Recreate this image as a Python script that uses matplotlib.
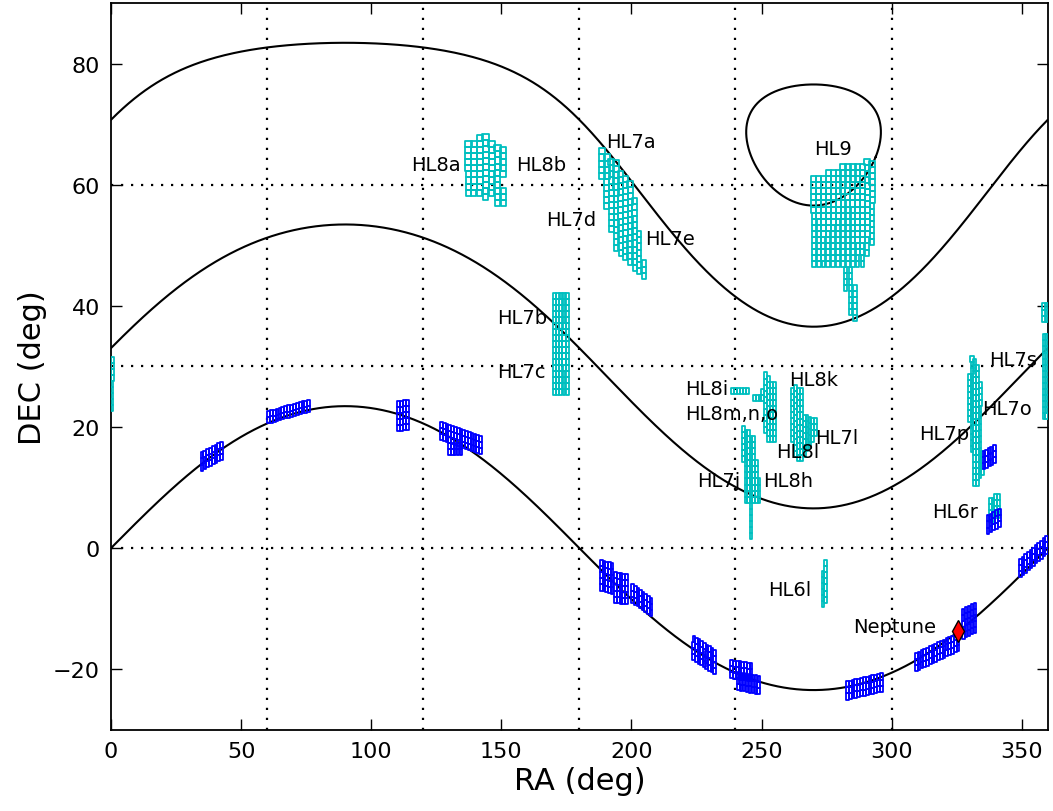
import numpy as np
import matplotlib
matplotlib.use("Agg")
import matplotlib.pyplot as plt
from matplotlib.patches import Rectangle
from matplotlib.collections import PatchCollection

# ecliptic latitude lines (deg) and obliquity of the ecliptic
ecl_lats = [0, 30, 60]
pole_circle_lat = 80
obliquity = 23.44

# cyan fields: columns of 1x1 deg cells -> (RA centre, DEC bottom, DEC top)
hl8ab = [(137.3, 58.2, 67.3), (139.5, 58.2, 67.3), (141.8, 58.2, 68.4), (144.1, 57.4, 68.4),
         (146.3, 58.2, 67.3), (148.6, 56.5, 66.4), (150.7, 61.3, 66.4), (150.7, 56.5, 59.2)]
hl7ade = [(188.7, 61.0, 65.7), (190.55, 56.0, 65.4), (192.3, 52.2, 64.6), (194.1, 49.1, 63.8),
          (195.9, 48.3, 62.8), (197.7, 47.5, 61.8), (199.5, 46.7, 61.0), (201.3, 45.8, 58.2),
          (203.0, 45.3, 52.2), (204.9, 44.5, 47.2)]
hl9 = [(270.1, 46.4, 61.5), (272.0, 46.4, 61.5), (273.8, 46.4, 61.5), (275.7, 46.4, 62.6),
       (277.6, 46.4, 62.6), (279.5, 46.4, 62.6), (281.3, 46.4, 63.8), (283.2, 46.4, 63.8),
       (285.1, 46.4, 63.8), (286.9, 46.4, 63.8), (288.8, 46.4, 63.8), (290.7, 48.3, 63.8),
       (292.5, 50.0, 63.8), (282.3, 42.5, 46.4), (284.2, 38.5, 46.4), (285.9, 37.5, 43.0)]
hl7bc = [(170.5, 25.2, 41.7), (171.7, 25.2, 41.7), (172.9, 25.2, 41.7),
         (174.1, 25.2, 41.7), (175.3, 25.2, 41.7)]
hl8i = [(239.0, 25.5, 26.5), (240.1, 25.5, 26.5), (241.2, 25.5, 26.5),
        (242.3, 25.5, 26.5), (243.4, 25.5, 26.5), (244.5, 25.5, 26.5)]
hl8mno = [(247.2, 24.3, 25.4), (248.3, 24.3, 25.4), (249.4, 24.3, 25.4), (250.5, 24.3, 26.5),
          (251.6, 19.0, 28.5), (252.7, 17.5, 28.5), (253.8, 17.5, 27.5), (254.9, 17.5, 27.5)]
hl8kl = [(262.0, 17.5, 26.6), (263.1, 15.0, 26.6), (264.2, 14.4, 26.6), (265.3, 14.4, 26.6),
         (266.4, 15.0, 21.6), (267.5, 16.0, 21.6), (268.6, 16.6, 21.6), (269.7, 17.5, 21.6),
         (270.8, 18.5, 21.6)]
hl7j8h = [(243.0, 14.2, 19.7), (244.0, 7.5, 19.7), (245.0, 7.5, 19.7), (246.0, 1.5, 18.5),
          (247.0, 7.5, 18.5), (248.0, 7.5, 14.2), (249.0, 7.5, 11.4)]
hl6l = [(273.6, -9.8, -3.5), (274.6, -9.0, -2.3)]
hl7po = [(329.8, 20.8, 28.5), (330.9, 15.8, 31.5), (331.9, 10.3, 31.5), (332.9, 10.3, 30.0),
         (334.0, 11.5, 28.0), (335.0, 12.0, 15.8)]
hl6r = [(338.0, 4.3, 8.0), (339.0, 4.3, 8.3), (340.0, 5.0, 8.9), (341.0, 5.0, 8.9)]
hl7s = [(358.6, 37.4, 40.7), (359.6, 37.4, 40.7), (358.6, 21.3, 35.7), (359.6, 21.3, 35.7),
        (0.4, 22.6, 31.7)]

# blue ecliptic blocks -> (RA first col, RA last col, DEC bottom first, DEC bottom last, rows)
blue_blocks = [
    (35.0, 42.5, 12.8, 14.6, 3),
    (60.5, 76.0, 20.6, 22.5, 2),
    (110.5, 114.0, 19.3, 19.5, 5),
    (127.0, 142.0, 17.8, 15.5, 3),
    (130.0, 134.5, 15.3, 15.3, 2),
    (188.5, 192.5, -7.0, -7.5, 5),
    (194.0, 198.0, -9.0, -9.3, 5),
    (200.5, 207.5, -9.0, -11.2, 3),
    (224.0, 232.0, -18.5, -20.8, 4),
    (238.5, 246.0, -21.5, -22.0, 3),
    (241.0, 249.0, -23.5, -24.1, 3),
    (283.0, 296.0, -25.0, -23.7, 3),
    (309.5, 325.5, -20.3, -17.0, 3),
    (327.5, 332.0, -15.0, -14.0, 5),
    (335.5, 339.5, 13.0, 14.0, 3),
    (337.0, 341.5, 2.4, 3.5, 3),
    (349.5, 359.5, -4.8, -1.0, 3),
]

neptune_ra, neptune_dec = 325.4, -13.7

label_text = ["HL8a", "HL8b", "HL7a", "HL7d", "HL7e", "HL9", "HL7b", "HL7c", "HL8i",
              "HL8m,n,o", "HL8k", "HL7l", "HL8l", "HL7j", "HL8h", "HL6l", "HL6r",
              "HL7p", "HL7o", "HL7s", "Neptune"]
label_ra = [115.3, 155.6, 190.2, 167.1, 205.1, 270.1, 148.3, 148.3, 220.5,
            220.5, 260.5, 270.5, 255.5, 225.1, 250.5, 252.4, 315.4,
            310.4, 334.6, 337.3, 285.1]
label_dec = [63.3, 63.3, 67.1, 54.2, 51.1, 66.0, 38.0, 29.1, 26.3,
             22.3, 27.9, 18.3, 16.0, 11.1, 11.1, -6.8, 6.1,
             19.0, 23.1, 31.2, -12.9]


def ecl_to_eq(lam, beta):
    eps = np.radians(obliquity)
    lam = np.radians(lam)
    beta = np.radians(beta)
    dec = np.arcsin(np.sin(beta) * np.cos(eps) + np.cos(beta) * np.sin(eps) * np.sin(lam))
    ra = np.arctan2(np.sin(lam) * np.cos(eps) - np.tan(beta) * np.sin(eps), np.cos(lam))
    return np.degrees(ra) % 360, np.degrees(dec)


def column_cells(cols):
    rects = []
    for ra, lo, hi in cols:
        n = max(1, int(round(hi - lo)))
        for j in range(n):
            d = lo + j
            w = 1.0 / np.cos(np.radians(d + 0.5))
            rects.append(Rectangle((ra - w / 2, d), w, 1.0))
    return rects


fig = plt.figure(figsize=(10.53, 8.12), dpi=100)
ax = fig.add_axes([0.1054, 0.1, 0.8896, 0.895])

lam = np.linspace(0, 360, 1441)
for b in ecl_lats:
    ra, dec = ecl_to_eq(lam, b)
    order = np.argsort(ra)
    ax.plot(ra[order], dec[order], color='k', lw=1.5, zorder=2)
ra, dec = ecl_to_eq(lam, pole_circle_lat)
ax.plot(ra, dec, color='k', lw=1.5, zorder=2)

for x in [60, 120, 180, 240, 300]:
    ax.axvline(x, color='k', lw=1.6, ls=(0, (1, 3.5)), zorder=1)
for y in [0, 30, 60]:
    ax.axhline(y, color='k', lw=1.6, ls=(0, (1, 3.5)), zorder=1)

cyan = []
for f in [hl8ab, hl7ade, hl9, hl7bc, hl8i, hl8mno, hl8kl, hl7j8h, hl6l, hl7po, hl6r, hl7s]:
    cyan += column_cells(f)
ax.add_collection(PatchCollection(cyan, facecolor='none', edgecolor=(0, 0.75, 0.75),
                                  lw=1.3, zorder=3))

blue = []
for ra_a, ra_b, lo_a, lo_b, nrow in blue_blocks:
    w = 1.0 / np.cos(np.radians(lo_a + nrow / 2))
    ncol = int(round((ra_b - ra_a) / w)) + 1
    cols = [(r, l, l + nrow) for r, l in zip(np.linspace(ra_a, ra_b, ncol),
                                              np.linspace(lo_a, lo_b, ncol))]
    blue += column_cells(cols)
ax.add_collection(PatchCollection(blue, facecolor='none', edgecolor='b', lw=1.3, zorder=3))

ax.plot(neptune_ra, neptune_dec, 'd', color='r', mec='k', ms=11, zorder=4)

for t, x, y in zip(label_text, label_ra, label_dec):
    ax.text(x, y, t, fontsize=14, ha='left', va='center', zorder=5)

ax.set_xlim(0, 360)
ax.set_ylim(-30, 90)
ax.set_xticks(np.arange(0, 351, 50))
ax.set_yticks(np.arange(-20, 81, 20))
ax.tick_params(direction='in', top=True, right=True, length=8, width=1, labelsize=16, pad=8)
for s in ax.spines.values():
    s.set_linewidth(1.3)
ax.set_xlabel('RA (deg)', fontsize=22)
ax.set_ylabel('DEC (deg)', fontsize=22)

fig.savefig('out.png', dpi=100, facecolor='white')
